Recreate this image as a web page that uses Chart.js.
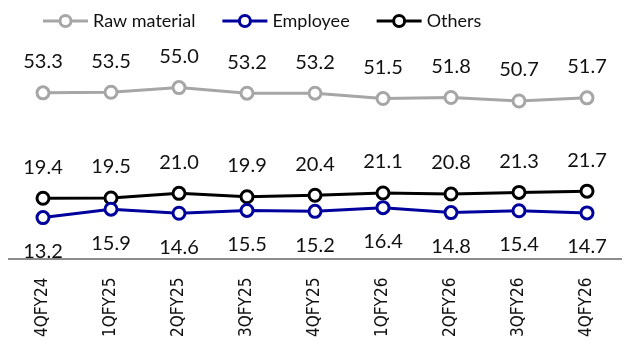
<!DOCTYPE html>
<html><head><meta charset="utf-8">
<script src="https://cdn.jsdelivr.net/npm/chart.js@4/dist/chart.umd.min.js"></script>
<style>html,body{margin:0;padding:0;background:#fff}#wrap{width:630px;height:354px}</style>
</head><body><div id="wrap"><canvas id="c"></canvas></div>
<script>
const categories = ["4QFY24","1QFY25","2QFY25","3QFY25","4QFY25","1QFY26","2QFY26","3QFY26","4QFY26"];
const rawMaterial = [53.3,53.5,55.0,53.2,53.2,51.5,51.8,50.7,51.7];
const employee = [13.2,15.9,14.6,15.5,15.2,16.4,14.8,15.4,14.7];
const others = [19.4,19.5,21.0,19.9,20.4,21.1,20.8,21.3,21.7];

const labelPlugin={
  id:'vlabels',
  afterDatasetsDraw(chart){
    const ctx=chart.ctx;
    ctx.save();
    ctx.font='20px Lato';ctx.fillStyle='#111';ctx.textAlign='center';ctx.textBaseline='middle';
    chart.data.datasets.forEach((ds,i)=>{
      const meta=chart.getDatasetMeta(i);
      meta.data.forEach((pt,j)=>{
        const off=ds.labelPos==='below'?34:-31;
        ctx.fillText(ds.data[j].toFixed(1),pt.x,pt.y+off);
      });
    });
    ctx.restore();
  }
};
const legendPlugin={
  id:'lineLegend',
  afterDraw(chart){
    const ctx=chart.ctx;
    ctx.save();
    ctx.font='18px Lato';ctx.textBaseline='middle';ctx.textAlign='left';
    let x=43;const y=21;
    chart.data.datasets.forEach(ds=>{
      ctx.strokeStyle=ds.borderColor;ctx.lineWidth=3;
      ctx.beginPath();ctx.moveTo(x,y);ctx.lineTo(x+45,y);ctx.stroke();
      ctx.beginPath();ctx.arc(x+22.5,y,5.5,0,Math.PI*2);ctx.fillStyle='#fff';ctx.fill();ctx.stroke();
      ctx.fillStyle='#111';
      ctx.fillText(ds.label,x+50,y);
      x+=50+ctx.measureText(ds.label).width+27;
    });
    ctx.restore();
  }
};
const mk=(label,data,color,pos)=>({label,data,borderColor:color,backgroundColor:'#fff',borderWidth:3,
  pointRadius:6,pointBorderWidth:3,pointBackgroundColor:'#fff',pointBorderColor:color,
  labelPos:pos,tension:0});
const dsets=[mk('Raw material',rawMaterial,'#a6a6a6','above'),mk('Employee',employee,'#00009c','below'),mk('Others',others,'#000000','above')];
new Chart(document.getElementById('c'),{
  type:'line',
  data:{labels:categories,datasets:dsets},
  plugins:[labelPlugin,legendPlugin],
  options:{
    responsive:true,maintainAspectRatio:false,animation:false,
    layout:{padding:{left:8,right:9,top:40,bottom:-2}},
    plugins:{tooltip:{enabled:false},legend:{display:false}},
    scales:{
      x:{offset:true,grid:{display:false,drawTicks:false},border:{color:'#8c8c8c',width:2},
        ticks:{maxRotation:90,minRotation:90,padding:19,color:'#111',font:{family:'DejaVu Sans Condensed',size:17}}},
      y:{display:false,min:0,max:70.3}
    }
  }
});
</script></body></html>
